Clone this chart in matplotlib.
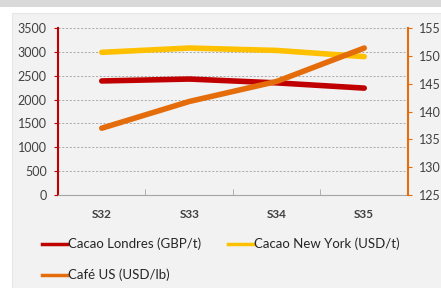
import matplotlib.pyplot as plt
from matplotlib.patches import Rectangle
from matplotlib.lines import Line2D

weeks = ['S32', 'S33', 'S34', 'S35']
cacao_londres = [2390, 2430, 2350, 2240]
cacao_ny = [2990, 3080, 3030, 2900]
cafe_us = [137.0, 141.8, 145.4, 151.4]

c_red = '#c00000'
c_yellow = '#ffc000'
c_orange = '#e46c0a'
c_text = '#404040'

plt.rcParams['font.family'] = ['Lato', 'DejaVu Sans']

fig = plt.figure(figsize=(4.41, 2.88), dpi=100)
fig.patch.set_facecolor('white')

# background panel + top strip
fig.patches.append(Rectangle((0, 1 - 7 / 288), 1, 7 / 288, transform=fig.transFigure,
                             facecolor='#d9d9d9', edgecolor='none', zorder=-2))
fig.patches.append(Rectangle((12 / 441, 0), 1, 1 - 13 / 288, transform=fig.transFigure,
                             facecolor='#f2f2f2', edgecolor='#e6e6e6', lw=0.8, zorder=-2))

ax = fig.add_axes([58 / 441, 1 - 195 / 288, 350 / 441, 167 / 288])
ax.set_zorder(1)
ax.set_facecolor('none')
x = range(len(weeks))

ax.plot(x, cacao_londres, color=c_red, lw=4, solid_capstyle='round', zorder=3)
ax.plot(x, cacao_ny, color=c_yellow, lw=4, solid_capstyle='round', zorder=3)
ax.set_ylim(0, 3500)
ax.set_yticks(range(0, 3501, 500))
ax.set_xlim(-0.5, 3.5)
ax.set_xticks(x)
ax.set_xticklabels(weeks, fontweight='bold', fontsize=8.5, color=c_text)
ax.set_xticks([0.5, 1.5, 2.5], minor=True)
ax.tick_params(axis='x', which='major', length=0, pad=10)
ax.tick_params(axis='x', which='minor', length=4, color='#a6a6a6', direction='in')
ax.tick_params(axis='y', length=3, color=c_red, labelsize=9, labelcolor=c_text, pad=5)
ax.grid(axis='y', color='#a0a0a0', ls=(0, (2.5, 2)), lw=0.6)
for s in ['top', 'right']:
    ax.spines[s].set_visible(False)
ax.spines['left'].set_color(c_red)
ax.spines['left'].set_linewidth(1.5)
ax.spines['bottom'].set_color('#a6a6a6')

ax2 = ax.twinx()
ax2.set_zorder(2)
ax2.set_facecolor('none')
ax2.plot(x, cafe_us, color=c_orange, lw=4, solid_capstyle='round', zorder=3)
ax2.set_ylim(125, 155)
ax2.set_yticks(range(125, 156, 5))
ax2.tick_params(axis='y', length=3, color=c_orange, labelsize=9, labelcolor=c_text, pad=5)
for s in ['top', 'left', 'bottom']:
    ax2.spines[s].set_visible(False)
ax2.spines['right'].set_color(c_orange)
ax2.spines['right'].set_linewidth(1.5)

labels = ['Cacao Londres (GBP/t)', 'Cacao New York (USD/t)', 'Café US (USD/lb)']
colors = [c_red, c_yellow, c_orange]
pos = [(42, 244), (228, 244), (42, 275)]
for lab, col, (px, py) in zip(labels, colors, pos):
    yy = 1 - py / 288
    fig.add_artist(Line2D([px / 441, (px + 25) / 441], [yy, yy], color=col, lw=2.5,
                          transform=fig.transFigure))
    fig.text((px + 26) / 441, yy, lab, fontsize=9.5, color='#262626', va='center', ha='left')

fig.savefig('out.png', dpi=100)
